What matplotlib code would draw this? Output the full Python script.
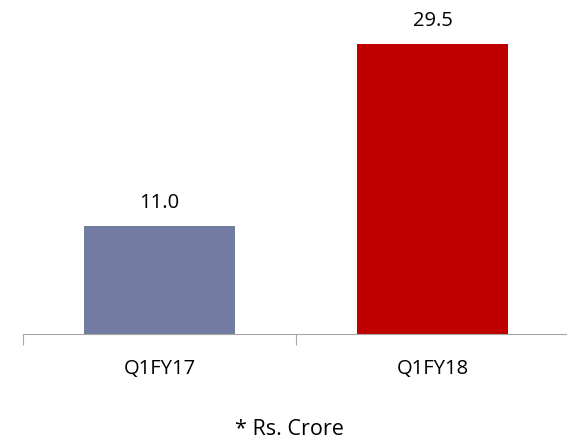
import matplotlib.pyplot as plt

quarters = ["Q1FY17", "Q1FY18"]
values = [11.0, 29.5]
colors = ["#727CA3", "#C00000"]

plt.rcParams['font.family'] = ['Open Sans', 'DejaVu Sans']

fig = plt.figure(figsize=(5.67, 4.4), dpi=100)
ax = fig.add_axes([0.0406, 0.2409, 0.963, 0.714])

x = range(len(quarters))
ax.bar(x, values, width=0.555, color=colors)
for i, v in zip(x, values):
    ax.annotate(f"{v:.1f}", (i, v), xytext=(0, 13), textcoords="offset points",
                ha="center", va="baseline", fontsize=14.5)

ax.set_xlim(-0.5, 1.5)
ax.set_ylim(0, 32)
ax.set_yticks([])
ax.set_xticks([-0.5, 0.5, 1.5])
ax.set_xticklabels([])
ax.set_xticks(list(x), minor=True)
ax.set_xticklabels(quarters, minor=True, fontsize=14.5)
ax.tick_params(axis="x", which="major", length=8, color="#A6A6A6", direction="out")
ax.tick_params(axis="x", which="minor", length=0, pad=18)

for s in ["top", "right", "left"]:
    ax.spines[s].set_visible(False)
ax.spines["bottom"].set_color("#A6A6A6")

fig.text(0.511, 0.011, "* Rs. Crore", ha="center", va="baseline", fontsize=15.5)

fig.savefig("out.png")
